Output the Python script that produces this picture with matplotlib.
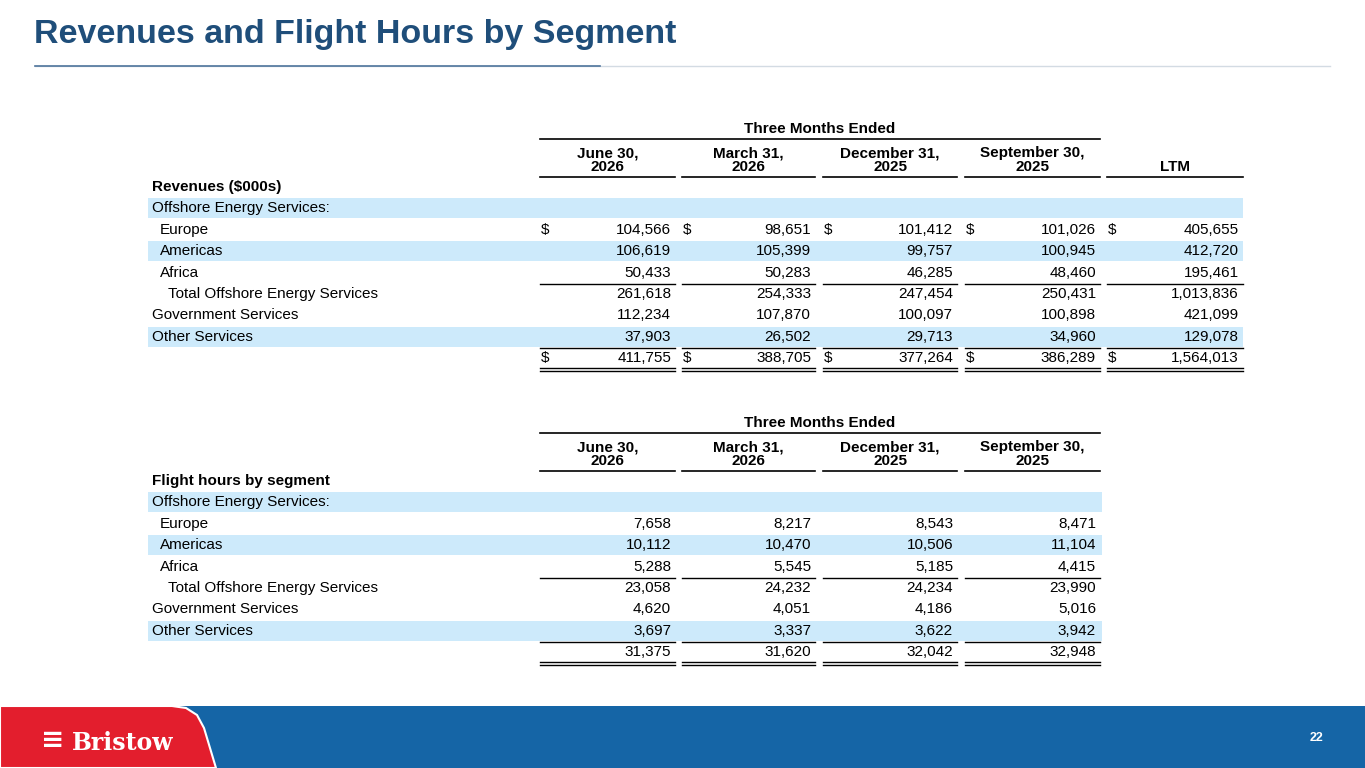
import matplotlib.pyplot as plt
from matplotlib.patches import Rectangle, Polygon

# revenue table data ($000s)
rev_cols = ["June 30,\n2026", "March 31,\n2026", "December 31,\n2025", "September 30,\n2025", "LTM"]
rev_labels = ["Europe", "Americas", "Africa", "Total Offshore Energy Services",
              "Government Services", "Other Services", ""]
europe_rev = [104566, 98651, 101412, 101026, 405655]
americas_rev = [106619, 105399, 99757, 100945, 412720]
africa_rev = [50433, 50283, 46285, 48460, 195461]
total_oes_rev = [261618, 254333, 247454, 250431, 1013836]
gov_rev = [112234, 107870, 100097, 100898, 421099]
other_rev = [37903, 26502, 29713, 34960, 129078]
total_rev = [411755, 388705, 377264, 386289, 1564013]

# flight hours
fh_cols = ["June 30,\n2026", "March 31,\n2026", "December 31,\n2025", "September 30,\n2025"]
europe_fh = [7658, 8217, 8543, 8471]
americas_fh = [10112, 10470, 10506, 11104]
africa_fh = [5288, 5545, 5185, 4415]
total_oes_fh = [23058, 24232, 24234, 23990]
gov_fh = [4620, 4051, 4186, 5016]
other_fh = [3697, 3337, 3622, 3942]
total_fh = [31375, 31620, 32042, 32948]

FONT = "Liberation Sans"
FS = 11
BAND = "#cdeafb"
DARK = "#1f4e7a"

fig = plt.figure(figsize=(13.65, 7.68), dpi=100)
ax = fig.add_axes([0, 0, 1, 1])
ax.set_xlim(0, 1365)
ax.set_ylim(768, 0)
ax.axis("off")

ax.text(34, 34, "Revenues and Flight Hours by Segment", fontsize=24.5, fontweight="bold",
        color=DARK, family=FONT, va="center")
ax.plot([35, 1330], [66, 66], color="#d3dbe3", lw=1)
ax.plot([35, 600], [66, 66], color="#4f759c", lw=1.2)

col_l = [540, 682, 823, 965, 1107]
col_r = [675, 815, 957, 1100, 1243]
rh = 21.4


def table(top, cols, rows, bold_lbl, x_end, dollar_rows):
    n = len(cols)
    ax.text((col_l[0] + col_r[3]) / 2, top, "Three Months Ended", fontsize=FS, fontweight="bold",
            family=FONT, ha="center", va="center")
    ax.plot([col_l[0], col_r[3]], [top + 10, top + 10], color="k", lw=1.2)
    for i, c in enumerate(cols):
        yy = top + 31 if "\n" in c else top + 38
        ax.text((col_l[i] + col_r[i]) / 2, yy, c, fontsize=FS, fontweight="bold", family=FONT,
                ha="center", va="center", linespacing=1.0)
        ax.plot([col_l[i], col_r[i]], [top + 48, top + 48], color="k", lw=1.2)
    y0 = top + 58
    ax.text(152, y0, bold_lbl, fontsize=FS, fontweight="bold", family=FONT, va="center")
    y = y0 + rh
    ax.add_patch(Rectangle((148, y - 10), x_end - 148, 20, color=BAND, lw=0))
    ax.text(152, y, "Offshore Energy Services:", fontsize=FS, family=FONT, va="center")
    for k, (lbl, vals) in enumerate(rows):
        y = y0 + rh * (k + 2)
        if k in (1, 5):
            ax.add_patch(Rectangle((148, y - 10), x_end - 148, 20, color=BAND, lw=0))
        indent = 160 if k < 3 else (168 if k == 3 else 152)
        if lbl:
            ax.text(indent, y, lbl, fontsize=FS, family=FONT, va="center")
        for i, v in enumerate(vals):
            ax.text(col_r[i] - 4, y, f"{v:,}", fontsize=FS, family=FONT, ha="right", va="center")
            if k in dollar_rows:
                ax.text(col_l[i] + 1, y, "$", fontsize=FS, family=FONT, va="center")
        if k in (2, 5):
            for i in range(n):
                ax.plot([col_l[i], col_r[i]], [y + 11, y + 11], color="k", lw=1)
        if k == 6:
            for i in range(n):
                ax.plot([col_l[i], col_r[i]], [y + 10, y + 10], color="k", lw=1)
                ax.plot([col_l[i], col_r[i]], [y + 13, y + 13], color="k", lw=1)


rev_rows = list(zip(rev_labels, [europe_rev, americas_rev, africa_rev, total_oes_rev,
                                 gov_rev, other_rev, total_rev]))
table(129, rev_cols, rev_rows, "Revenues ($000s)", 1243, (0, 6))

fh_rows = list(zip(rev_labels, [europe_fh, americas_fh, africa_fh, total_oes_fh,
                                gov_fh, other_fh, total_fh]))
table(423, fh_cols, fh_rows, "Flight hours by segment", 1102, ())

# footer
ax.add_patch(Rectangle((0, 706), 1365, 62, color="#1565a6", lw=0))
ax.add_patch(Polygon([(0, 706), (172, 706), (186, 708), (197, 715), (204, 728), (216, 768), (0, 768)],
                     closed=True, facecolor="#e31e2d", edgecolor="white", lw=1.5))
ax.text(53, 740, "\u2261", fontsize=20, color="white", fontweight="bold", ha="center", va="center")
ax.text(72, 743, "Bristow", fontsize=17, color="white", fontweight="bold", family="DejaVu Serif",
        va="center")
ax.text(1316, 738, "22", fontsize=9, color="white", fontweight="bold", family=FONT,
        ha="center", va="center")

fig.savefig("out.png", dpi=100)
